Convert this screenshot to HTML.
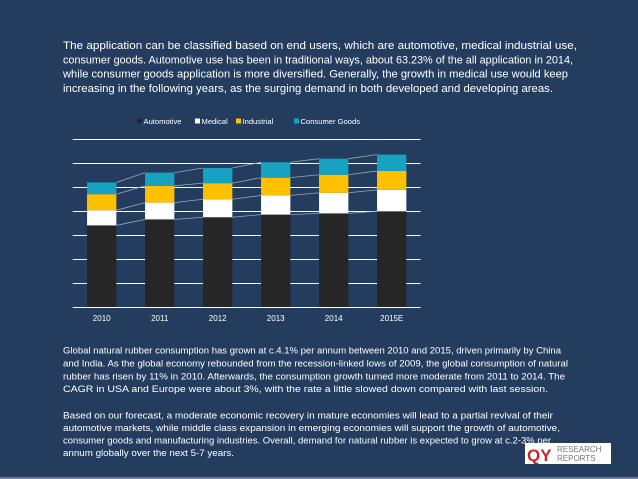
<!DOCTYPE html>
<html><head><meta charset="utf-8"><style>
html,body{margin:0;padding:0;background:#243d5f;}
svg{display:block;font-family:"Liberation Sans",sans-serif;}
</style></head><body>
<svg id="s" width="638" height="479" viewBox="0 0 638 479">
<rect x="0" y="0" width="638" height="479" fill="#243d5f"/>
<rect x="0" y="477" width="638" height="2" fill="#6b7e96"/>
<g fill="#ffffff" font-size="11">
<text x="63" y="49" textLength="514" lengthAdjust="spacingAndGlyphs">The application can be classified based on end users, which are automotive, medical industrial use,</text>
<text x="63" y="63.3" textLength="510" lengthAdjust="spacingAndGlyphs">consumer goods. Automotive use has been in traditional ways, about 63.23% of the all application in 2014,</text>
<text x="63" y="77.7" textLength="505" lengthAdjust="spacingAndGlyphs">while consumer goods application is more diversified. Generally, the growth in medical use would keep</text>
<text x="63" y="92" textLength="490" lengthAdjust="spacingAndGlyphs">increasing in the following years, as the surging demand in both developed and developing areas.</text>
</g>
<g id="chart"></g>
<g fill="#ffffff" font-size="9.6">
<text x="63" y="353.5" textLength="498" lengthAdjust="spacingAndGlyphs">Global natural rubber consumption has grown at c.4.1% per annum between 2010 and 2015, driven primarily by China</text>
<text x="63" y="366.5" textLength="505" lengthAdjust="spacingAndGlyphs">and India. As the global economy rebounded from the recession-linked lows of 2009, the global consumption of natural</text>
<text x="63" y="379.5" textLength="502" lengthAdjust="spacingAndGlyphs">rubber has risen by 11% in 2010. Afterwards, the consumption growth turned more moderate from 2011 to 2014. The</text>
<text x="63" y="392" textLength="485" lengthAdjust="spacingAndGlyphs">CAGR in USA and Europe were about 3%, with the rate a little slowed down compared with last session.</text>
<text x="63" y="418.5" textLength="490" lengthAdjust="spacingAndGlyphs">Based on our forecast, a moderate economic recovery in mature economies will lead to a partial revival of their</text>
<text x="63" y="431" textLength="497" lengthAdjust="spacingAndGlyphs">automotive markets, while middle class expansion in emerging economies will support the growth of automotive,</text>
<text x="63" y="443.5" textLength="488" lengthAdjust="spacingAndGlyphs">consumer goods and manufacturing industries. Overall, demand for natural rubber is expected to grow at c.2-3% per</text>
<text x="63" y="456" textLength="171" lengthAdjust="spacingAndGlyphs">annum globally over the next 5-7 years.</text>
</g>
<g>
<rect x="525" y="443" width="86" height="21" fill="#ffffff"/>
<text x="527" y="461" font-size="17" font-weight="bold" fill="#c0282d">QY</text>
<text x="557" y="452" font-size="8" fill="#777">RESEARCH</text>
<text x="557" y="461" font-size="8" fill="#777">REPORTS</text>
</g>
</svg>
<script>
const categories=["2010","2011","2012","2013","2014","2015E"];
const seriesNames=["Automotive","Medical","Industrial","Consumer Goods"];
const automotive=[34,36.5,37.4,38.5,39,39.9];
const medical=[6.3,7,7.5,8,8.6,8.9];
const industrial=[6.7,7,6.7,7.4,7.5,7.9];
const consumer=[4.9,5.5,6.3,6.4,6.7,6.8];
const gridTicks=[0,10,20,30,40,50,60,70];
const colors=["#262626","#ffffff","#ffc000","#17a2c2"];
const NS="http://www.w3.org/2000/svg";
const g=document.getElementById("chart");
const X0=72.7,X1=420.7,Y0=307,Y1=139,MAX=70;
const band=(X1-X0)/categories.length,bw=29.3;
function yS(v){return Y0-(v/MAX)*(Y0-Y1);}
function xC(i){return X0+band*(i+0.5);}
function mk(tag,attrs){const e=document.createElementNS(NS,tag);for(const k in attrs)e.setAttribute(k,attrs[k]);g.appendChild(e);return e;}
gridTicks.forEach(t=>{
 const y=Math.round(yS(t))+0.5;
 const l=mk("line",{x1:X0,x2:X1,y1:y,y2:y,stroke:"#ffffff","stroke-width":1});
 
 
});
const series=[automotive,medical,industrial,consumer];
const tops=categories.map(()=>[]);
categories.forEach((c,i)=>{
 let acc=0;
 series.forEach((s,k)=>{
  const y0=yS(acc),y1=yS(acc+s[i]);acc+=s[i];tops[i].push(y1);
  const r=mk("rect",{x:xC(i)-bw/2,y:y1,width:bw,height:y0-y1,fill:colors[k]});
  
  
 });
 const t=mk("text",{x:xC(i),y:321,"text-anchor":"middle","font-size":"8",fill:"#ffffff"});
 t.textContent=c;
 
 
});
for(let i=0;i<categories.length-1;i++){
 for(let k=0;k<4;k++){
  const l=mk("line",{x1:xC(i)+bw/2,x2:xC(i+1)-bw/2,y1:tops[i][k],y2:tops[i+1][k],stroke:"#9aa7b8","stroke-width":0.8});
  
  
 }
}
const legX=[137,195,236,294];
seriesNames.forEach((n,k)=>{
 const r=mk("rect",{x:legX[k],y:118.5,width:5,height:5,fill:colors[k]});
 
 
 const t=mk("text",{x:legX[k]+6.5,y:124,"font-size":"7.6",fill:"#ffffff"});
 t.textContent=n;
 
 
});
</script>
</body></html>
